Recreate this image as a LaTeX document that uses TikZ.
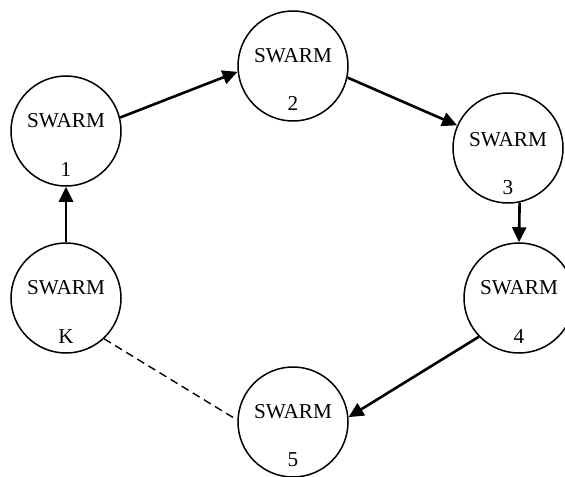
\documentclass[tikz,border=0pt]{standalone}
\usepackage{fontspec}
\setmainfont{Liberation Serif}
\usepackage{tikz}
\usetikzlibrary{arrows.meta, calc}

\tikzset{
    swarm/.style={draw, circle, line width=0.75pt, minimum size=55pt, inner sep=0pt},
    word/.style={inner sep=0pt, font=\fontsize{10.6pt}{12pt}\selectfont},
    link/.style={line width=1.3pt, -{Triangle[length=7.5pt,width=7pt]}},
    weak/.style={line width=0.7pt, dash pattern=on 4pt off 2.5pt}
}

\begin{document}
\begin{tikzpicture}[x=0.5pt, y=-0.5pt]
        \useasboundingbox (0,0) rectangle (565,476);

        \node[swarm] (s1) at (66, 131) {};
        \node[swarm] (s2) at (293, 66) {};
        \node[swarm] (s3) at (508, 148) {};
        \node[swarm] (s4) at (519, 298) {};
        \node[swarm] (s5) at (293, 422) {};
        \node[swarm] (sK) at (66, 298) {};

        \node[word] (w1) at ($(s1)+(0,-10)$) {SWARM};
        \node[word] (n1) at ($(s1)+(0,38)$) {1};
        \node[word] (w2) at ($(s2)+(0,-10)$) {SWARM};
        \node[word] (n2) at ($(s2)+(0,37)$) {2};
        \node[word] (w3) at ($(s3)+(0,-8)$) {SWARM};
        \node[word] (n3) at ($(s3)+(0,40)$) {3};
        \node[word] (w4) at ($(s4)+(0,-10)$) {SWARM};
        \node[word] (n4) at ($(s4)+(0,39)$) {4};
        \node[word] (w5) at ($(s5)+(0,-10)$) {SWARM};
        \node[word] (n5) at ($(s5)+(0,38)$) {5};
        \node[word] (wK) at ($(sK)+(0,-10)$) {SWARM};
        \node[word] (nK) at ($(sK)+(0,39)$) {K};

        \draw[link] (sK.north) -- (s1.south);
        \draw[link] (s1.14) -- (s2.186);
        \draw[link] (s2.348) -- (s3.156);
        \draw[link] (s3.-78) -- (s4.north);
        \draw[link] (s4.224) -- (s5.5);
        \draw[weak] (sK.313) -- (s5.178);

    \end{tikzpicture}
\end{document}
